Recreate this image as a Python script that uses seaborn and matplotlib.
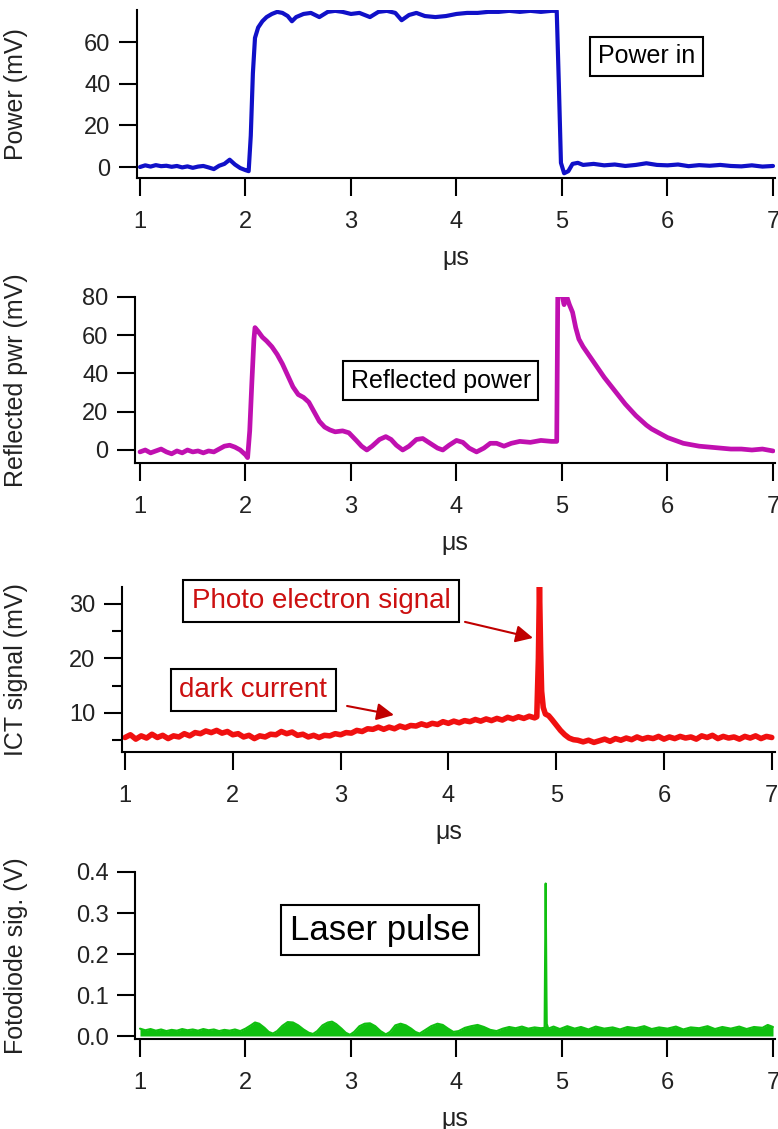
import matplotlib
matplotlib.use("Agg")
import matplotlib.pyplot as plt
import seaborn as sns
import pandas as pd

# ---------------- data ----------------
time_ticks = [1, 2, 3, 4, 5, 6, 7]

power_t = [1.00, 1.05, 1.10, 1.15, 1.20, 1.25, 1.30, 1.35, 1.40, 1.45, 1.50, 1.55, 1.60, 1.65, 1.70,
           1.75, 1.80, 1.85, 1.90, 1.95, 2.00, 2.03, 2.05, 2.07, 2.09, 2.12, 2.16, 2.20, 2.25, 2.30,
           2.35, 2.40, 2.44, 2.48, 2.55, 2.62, 2.70, 2.78, 2.85, 2.92, 3.00, 3.08, 3.18, 3.26, 3.34,
           3.42, 3.48, 3.55, 3.62, 3.70, 3.80, 3.90, 4.00, 4.10, 4.20, 4.30, 4.40, 4.50, 4.60, 4.70,
           4.80, 4.90, 4.95, 4.97, 4.99, 5.02, 5.06, 5.10, 5.15, 5.20, 5.30, 5.40, 5.50, 5.60, 5.70,
           5.80, 5.90, 6.00, 6.10, 6.20, 6.30, 6.40, 6.50, 6.60, 6.70, 6.80, 6.90, 7.00]
power_mv = [0.0, 0.8, 0.2, 0.9, 0.4, 0.6, 0.1, 0.5, -0.2, 0.3, -0.4, 0.2, 0.5, -0.2, -1.0,
            0.6, 1.5, 3.5, 1.2, -0.5, -1.5, -2.0, 15, 45, 62, 67, 70, 72, 73.5, 74.5,
            74, 72.5, 70, 72, 73.5, 74, 72, 74.5, 75, 74.5, 73.5, 74, 72, 74.5, 75,
            74, 70.5, 73, 74, 72.5, 72, 72.5, 73.5, 74, 74, 74.5, 74.5, 75, 74.5, 75,
            74.5, 75, 75, 40, 2, -3, -2, 1.5, 2, 1.0, 1.5, 0.8, 1.2, 0.5, 1.0,
            1.8, 1.0, 0.8, 1.2, 0.4, 0.9, 0.6, 1.0, 0.5, 0.3, 0.8, 0.2, 0.5]

refl_t = [1.00, 1.05, 1.10, 1.15, 1.20, 1.25, 1.30, 1.35, 1.40, 1.45, 1.50, 1.55, 1.60, 1.65, 1.70,
          1.75, 1.80, 1.85, 1.90, 1.95, 2.00, 2.02, 2.04, 2.06, 2.08, 2.09, 2.12, 2.16, 2.20, 2.25,
          2.30, 2.35, 2.40, 2.45, 2.50, 2.55, 2.60, 2.65, 2.70, 2.75, 2.80, 2.85, 2.92, 2.98, 3.05,
          3.10, 3.15, 3.20, 3.27, 3.33, 3.38, 3.43, 3.49, 3.55, 3.62, 3.68, 3.75, 3.82, 3.87, 3.93,
          4.00, 4.06, 4.12, 4.19, 4.26, 4.32, 4.38, 4.45, 4.52, 4.60, 4.70, 4.80, 4.90, 4.95, 4.96,
          5.00, 5.02, 5.04, 5.07, 5.10, 5.13, 5.16, 5.20, 5.25, 5.30, 5.35, 5.40, 5.45, 5.50, 5.55,
          5.60, 5.65, 5.70, 5.75, 5.80, 5.85, 5.90, 5.95, 6.00, 6.05, 6.10, 6.15, 6.20, 6.30, 6.40,
          6.50, 6.60, 6.70, 6.80, 6.90, 7.00]
refl_mv = [-1, 0, -1.5, -0.5, 0.5, -1, -2, -0.5, -1.5, 0, -1, -0.5, -1.5, -0.5, -1,
           0.5, 2, 2.5, 1.5, 0, -2.5, -4, 10, 35, 58, 64, 62, 59, 57, 54,
           50, 45, 39, 33, 29, 27.5, 25, 20, 15, 12, 10.5, 9.5, 10, 9, 5,
           2, 0, 2, 5.5, 7, 5.5, 2.5, 0, 2, 5.5, 6, 3.5, 1, 0, 2.5,
           5, 4, 1, -1, 1, 3.5, 3.5, 2, 3.5, 4.5, 4, 5, 4.5, 4.5, 81,
           81, 76, 81, 76, 72, 64, 58, 54, 50, 46, 42, 38, 34.5, 31, 27.5,
           24, 21, 18, 15.5, 13, 11, 9.5, 8, 6.5, 5.5, 4.5, 3.5, 3, 2, 1.5,
           1, 0.5, 0.5, 0, 0.5, -0.5]

ict_t = [1.00, 1.05, 1.10, 1.15, 1.20, 1.25, 1.30, 1.35, 1.40, 1.45, 1.50, 1.55, 1.60, 1.65, 1.70,
         1.75, 1.80, 1.85, 1.90, 1.95, 2.00, 2.05, 2.10, 2.15, 2.20, 2.25, 2.30, 2.35, 2.40, 2.45,
         2.50, 2.55, 2.60, 2.65, 2.70, 2.75, 2.80, 2.85, 2.90, 2.95, 3.00, 3.05, 3.10, 3.15, 3.20,
         3.25, 3.30, 3.35, 3.40, 3.45, 3.50, 3.55, 3.60, 3.65, 3.70, 3.75, 3.80, 3.85, 3.90, 3.95,
         4.00, 4.05, 4.10, 4.15, 4.20, 4.25, 4.30, 4.35, 4.40, 4.45, 4.50, 4.55, 4.60, 4.65, 4.70,
         4.75, 4.80, 4.82, 4.835, 4.845, 4.855, 4.865, 4.88, 4.90, 4.93, 4.96, 5.00, 5.04, 5.08, 5.12,
         5.16, 5.20, 5.25, 5.30, 5.35, 5.40, 5.45, 5.50, 5.55, 5.60, 5.65, 5.70, 5.75, 5.80, 5.85,
         5.90, 5.95, 6.00, 6.05, 6.10, 6.15, 6.20, 6.25, 6.30, 6.35, 6.40, 6.45, 6.50, 6.55, 6.60,
         6.65, 6.70, 6.75, 6.80, 6.85, 6.90, 6.95, 7.00]
ict_mv = [5.5, 6.0, 5.2, 5.8, 5.4, 6.1, 5.5, 5.9, 5.3, 5.8, 5.6, 6.2, 5.8, 6.4, 6.2,
          6.7, 6.4, 6.8, 6.3, 6.6, 6.0, 6.2, 5.6, 5.9, 5.3, 5.8, 5.6, 6.1, 6.0, 6.6,
          6.2, 6.5, 5.9, 6.1, 5.6, 5.9, 5.5, 5.9, 5.8, 6.2, 6.0, 6.4, 6.3, 6.8, 6.6,
          7.1, 7.0, 7.4, 7.0, 7.4, 7.1, 7.6, 7.3, 7.7, 7.6, 8.0, 7.7, 8.1, 7.9, 8.4,
          8.1, 8.5, 8.2, 8.6, 8.4, 8.8, 8.5, 8.9, 8.6, 9.0, 8.7, 9.2, 8.9, 9.3, 9.0,
          9.4, 9.1, 9.3, 20, 33.5, 22, 14, 11, 9.8, 9.5, 8.8, 7.8, 6.8, 6.0, 5.4,
          5.1, 5.0, 4.7, 5.0, 4.6, 4.9, 5.2, 4.8, 5.3, 5.0, 5.4, 5.1, 5.6, 5.2, 5.5,
          5.3, 5.7, 5.2, 5.6, 5.3, 5.7, 5.4, 5.6, 5.2, 5.8, 5.5, 5.9, 5.3, 5.7, 5.4,
          5.6, 5.2, 5.7, 5.4, 5.8, 5.3, 5.7, 5.5]

diode_t = [1.00, 1.05, 1.10, 1.15, 1.20, 1.25, 1.30, 1.35, 1.40, 1.45, 1.50, 1.55, 1.60, 1.65, 1.70,
           1.75, 1.80, 1.85, 1.90, 1.95, 2.00, 2.05, 2.09, 2.13, 2.18, 2.22, 2.26, 2.30, 2.35, 2.40,
           2.45, 2.50, 2.55, 2.60, 2.64, 2.68, 2.73, 2.78, 2.82, 2.86, 2.91, 2.95, 2.99, 3.03, 3.08,
           3.13, 3.18, 3.23, 3.28, 3.33, 3.37, 3.42, 3.47, 3.52, 3.57, 3.61, 3.65, 3.70, 3.76, 3.82,
           3.87, 3.92, 3.97, 4.02, 4.08, 4.14, 4.20, 4.26, 4.32, 4.38, 4.44, 4.50, 4.56, 4.62, 4.68,
           4.74, 4.80, 4.835, 4.845, 4.855, 4.87, 4.92, 4.98, 5.05, 5.12, 5.18, 5.25, 5.32, 5.40, 5.48,
           5.55, 5.62, 5.70, 5.78, 5.85, 5.92, 6.00, 6.08, 6.15, 6.22, 6.30, 6.38, 6.45, 6.52, 6.60,
           6.68, 6.75, 6.82, 6.90, 6.95, 7.00]
diode_v = [0.018, 0.014, 0.017, 0.013, 0.016, 0.012, 0.015, 0.013, 0.017, 0.014, 0.016, 0.013, 0.017, 0.014, 0.016,
           0.012, 0.015, 0.013, 0.016, 0.012, 0.018, 0.026, 0.033, 0.030, 0.020, 0.010, 0.006, 0.012, 0.025, 0.034,
           0.033, 0.026, 0.016, 0.008, 0.005, 0.012, 0.026, 0.033, 0.035, 0.029, 0.018, 0.008, 0.003, 0.010, 0.024,
           0.030, 0.031, 0.024, 0.012, 0.004, 0.010, 0.026, 0.030, 0.026, 0.018, 0.010, 0.006, 0.014, 0.024, 0.030,
           0.027, 0.018, 0.010, 0.012, 0.020, 0.024, 0.027, 0.022, 0.015, 0.012, 0.018, 0.022, 0.019, 0.023, 0.018,
           0.021, 0.019, 0.020, 0.372, 0.030, 0.018, 0.023, 0.017, 0.024, 0.018, 0.022, 0.016, 0.023, 0.018, 0.021,
           0.016, 0.022, 0.019, 0.024, 0.017, 0.021, 0.018, 0.023, 0.016, 0.021, 0.019, 0.024, 0.017, 0.022, 0.018,
           0.023, 0.017, 0.022, 0.020, 0.027, 0.022]

# ---------------- style ----------------
sns.set_style("ticks")
plt.rcParams["font.family"] = ["Liberation Sans", "DejaVu Sans"]
plt.rcParams["axes.linewidth"] = 1.5

W, H = 778, 1129
fig = plt.figure(figsize=(W / 100, H / 100), dpi=100)


def make_ax(left, right, top, bottom):
    return fig.add_axes([left / W, 1 - bottom / H, (right - left) / W, (bottom - top) / H])


def style_ax(ax, xlim, ylim, yticks, ylabel, ylabel_x_px, left_px, width_px):
    ax.set_xlim(*xlim)
    ax.set_ylim(*ylim)
    ax.set_xticks(time_ticks)
    ax.set_yticks(yticks)
    for s in ["top", "right"]:
        ax.spines[s].set_visible(False)
    for s in ["left", "bottom"]:
        ax.spines[s].set_linewidth(1.5)
        ax.spines[s].set_color("black")
    ax.tick_params(axis="both", which="major", length=13, width=1.5, labelsize=17,
                   color="black", labelcolor="#222222", direction="out")
    ax.tick_params(axis="x", pad=11)
    ax.tick_params(axis="y", pad=6)
    ax.set_xlabel("μs", fontsize=18, color="#222222", labelpad=9)
    ax.set_ylabel(ylabel, fontsize=18, color="#222222")
    ax.yaxis.set_label_coords((ylabel_x_px - left_px) / width_px, 0.5)


box = dict(boxstyle="square,pad=0.3", fc="white", ec="black", lw=1.5)

# Panel 1: Power in
ax1 = make_ax(137, 775, 10, 178)
sns.lineplot(x=power_t, y=power_mv, ax=ax1, color="#1010c8", linewidth=3.0, estimator=None)
style_ax(ax1, (0.9716, 7.019), (-5.28, 75.4), [0, 20, 40, 60], "Power (mV)", 28, 137, 638)
ax1.text(5.80, 53.3, "Power in", ha="center", va="center", fontsize=18, color="black", bbox=box)

# Panel 2: Reflected power
ax2 = make_ax(135, 775, 297, 463)
sns.lineplot(x=refl_t, y=refl_mv, ax=ax2, color="#c010b0", linewidth=3.4, estimator=None)
style_ax(ax2, (0.9526, 7.019), (-6.8, 80), [0, 20, 40, 60, 80], "Reflected pwr (mV)", 28, 135, 640)
ax2.text(3.85, 36.1, "Reflected power", ha="center", va="center", fontsize=18, color="black", bbox=box)

# Panel 3: ICT signal
ax3 = make_ax(122, 775, 587, 752)
sns.lineplot(x=ict_t, y=ict_mv, ax=ax3, color="#f01010", linewidth=4.0, estimator=None)
style_ax(ax3, (0.972, 7.03), (2.84, 33.1), [10, 20, 30], "ICT signal (mV)", 28, 122, 653)
ax3.set_yticks([5, 15, 25], minor=True)
ax3.tick_params(axis="y", which="minor", length=7, width=1.5, color="black")
ax3.text(2.82, 30.55, "Photo electron signal", ha="center", va="center", fontsize=20,
         color="#cc1010", bbox=box)
ax3.text(2.19, 14.2, "dark current", ha="center", va="center", fontsize=20,
         color="#cc1010", bbox=box)
arrow = dict(arrowstyle="-|>", color="#c00000", lw=1.5, mutation_scale=26, shrinkA=0, shrinkB=0)
ax3.annotate("", xy=(4.785, 23.76), xytext=(4.154, 26.7), arrowprops=arrow)
ax3.annotate("", xy=(3.495, 9.63), xytext=(3.06, 11.28), arrowprops=arrow)

# Panel 4: Fotodiode
ax4 = make_ax(135, 775, 872, 1039)
ax4.fill_between(diode_t, 0, diode_v, color="#10c010", lw=0)
sns.lineplot(x=diode_t, y=diode_v, ax=ax4, color="#10c010", linewidth=1.5, estimator=None)
style_ax(ax4, (0.9526, 7.019), (-0.0073, 0.4), [0.0, 0.1, 0.2, 0.3, 0.4], "Fotodiode sig. (V)", 28, 135, 640)
ax4.set_yticklabels(["0.0", "0.1", "0.2", "0.3", "0.4"])
ax4.text(3.275, 0.2585, "Laser pulse", ha="center", va="center", fontsize=25, color="black",
         bbox=dict(boxstyle="square,pad=0.25", fc="white", ec="black", lw=1.5))

fig.savefig("out.png", dpi=100)
